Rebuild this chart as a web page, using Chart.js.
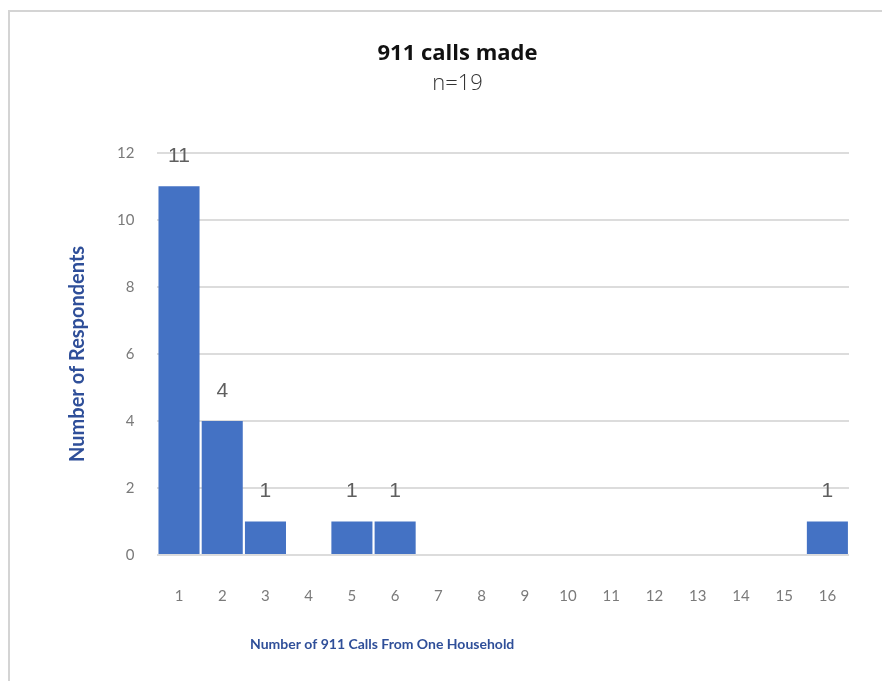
<!DOCTYPE html>
<html>
<head>
<meta charset="utf-8">
<script src="https://cdn.jsdelivr.net/npm/chart.js@4"></script>
<style>
  html, body { margin: 0; padding: 0; background: #fff; }
  #wrap { position: relative; width: 882px; height: 681px; }
  #frame {
    position: absolute; left: 8px; top: 10px; right: 0; bottom: 0;
    border-top: 2px solid #d4d4d4; border-left: 2px solid #d4d4d4;
  }
  #calls { position: absolute; left: 0; top: 0; }
</style>
</head>
<body>
<div id="wrap">
  <div id="frame"></div>
  <canvas id="calls" width="882" height="681"></canvas>
</div>
<script>
const callCounts = ['1', '2', '3', '4', '5', '6', '7', '8', '9', '10', '11', '12', '13', '14', '15', '16'];
const respondents = [11, 4, 1, 0, 1, 1, 0, 0, 0, 0, 0, 0, 0, 0, 0, 1];
const yMax = 12;
const yStep = 2;
const xCaption = 'Number of 911 Calls From One Household';

const blue = '#2f4f99';

// value labels drawn over each bar that has respondents
const barValues = {
  id: 'barValues',
  afterDatasetsDraw(chart) {
    const ctx = chart.ctx;
    const meta = chart.getDatasetMeta(0);
    ctx.save();
    ctx.font = '21px "Liberation Sans", Arial, sans-serif';
    ctx.fillStyle = '#5f5f5f';
    ctx.textAlign = 'center';
    ctx.textBaseline = 'middle';
    meta.data.forEach((bar, i) => {
      const v = respondents[i];
      if (v > 0) ctx.fillText(String(v), bar.x, bar.y - 30);
    });
    ctx.restore();
  }
};

// x axis caption sits left of centre in the original, so place it by hand
const xTitle = {
  id: 'xTitle',
  afterDraw(chart) {
    const ctx = chart.ctx;
    const area = chart.chartArea;
    ctx.save();
    ctx.font = 'bold 14px Lato';
    ctx.fillStyle = blue;
    ctx.textAlign = 'center';
    ctx.textBaseline = 'middle';
    ctx.fillText(xCaption, area.left + (area.right - area.left) * 0.325, area.bottom + 89);
    ctx.restore();
  }
};

new Chart(document.getElementById('calls'), {
  type: 'bar',
  plugins: [barValues, xTitle],
  data: {
    labels: callCounts,
    datasets: [{
      label: 'Number of Respondents',
      data: respondents,
      backgroundColor: '#4472c4',
      barPercentage: 1,
      categoryPercentage: 0.95
    }]
  },
  options: {
    responsive: false,
    animation: false,
    layout: { padding: { left: 66, right: 33, top: 0, bottom: 52 } },
    plugins: {
      legend: { display: false },
      tooltip: { enabled: false },
      title: {
        display: true,
        text: '911 calls made',
        color: '#111',
        font: { family: '"Open Sans"', size: 22, weight: 'bold' },
        padding: { top: 41, bottom: 0 }
      },
      subtitle: {
        display: true,
        text: 'n=19',
        color: '#333',
        font: { family: '"Open Sans"', size: 22, weight: '300' },
        padding: { top: 3, bottom: 56 }
      }
    },
    scales: {
      x: {
        grid: { display: false },
        border: { display: false },
        ticks: {
          color: '#7a7a7a',
          font: { family: 'Lato', size: 15 },
          padding: 24,
          maxRotation: 0
        }
      },
      y: {
        min: 0,
        max: yMax,
        border: { display: false },
        grid: { color: '#dcdcdc', lineWidth: 2, drawTicks: false },
        ticks: {
          stepSize: yStep,
          color: '#7a7a7a',
          font: { family: 'Lato', size: 15 },
          padding: 23
        },
        title: {
          display: true,
          text: 'Number of Respondents',
          color: blue,
          font: { family: 'Lato', size: 20, weight: 'bold' },
          padding: { top: 0, bottom: 4 }
        }
      }
    }
  }
});
</script>
</body>
</html>
